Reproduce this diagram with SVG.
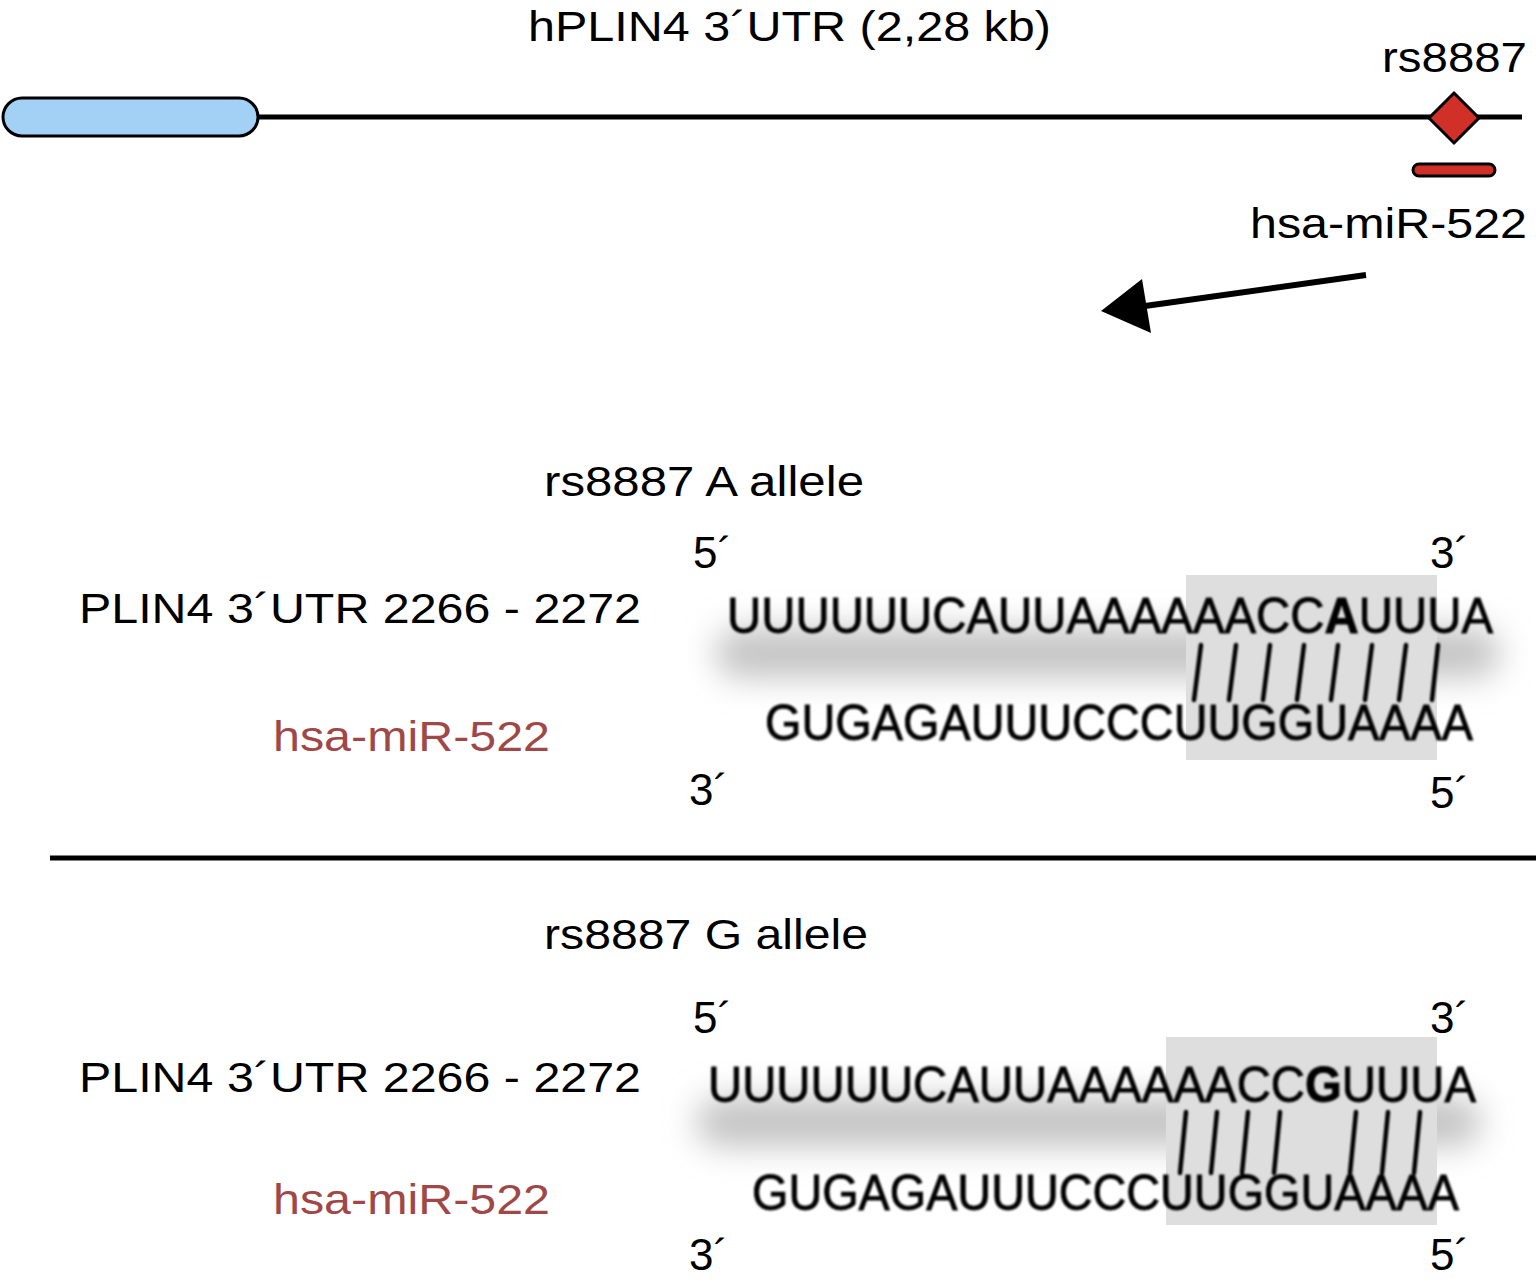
<svg xmlns="http://www.w3.org/2000/svg" width="1536" height="1285" viewBox="0 0 1536 1285">
<defs>
<style>
text{font-family:"Liberation Sans",Arial,sans-serif;fill:#000}
.lbl{font-size:42px}
.end{font-size:44px}
.mir{font-size:42px;fill:#a04848}
.seq{font-size:50px;stroke:#000;stroke-width:0.9}
.pair{stroke:#000;stroke-width:4.5;stroke-linecap:round}
.box{fill:#dedede}
</style>
<filter id="blur" x="-20%" y="-150%" width="140%" height="400%"><feGaussianBlur stdDeviation="16"/></filter>
<filter id="soft" x="-5%" y="-20%" width="110%" height="140%"><feGaussianBlur stdDeviation="1"/></filter>
</defs>
<rect width="1536" height="1285" fill="#fff"/>

<g id="title"><text class="lbl" x="528" y="41" textLength="523" lengthAdjust="spacingAndGlyphs">hPLIN4 3´UTR (2,28 kb)</text></g>

<g id="connectors">
<line x1="258" y1="117" x2="1522" y2="117" stroke="#000" stroke-width="5"/>
<line x1="1366" y1="275" x2="1145" y2="306" stroke="#000" stroke-width="6"/>
<polygon points="1101,311 1142,279 1151,333" fill="#000"/>
<line x1="50" y1="858" x2="1536" y2="858" stroke="#000" stroke-width="5"/>
</g>

<g id="utr-cds"><rect x="3" y="98" width="255" height="38" rx="19" fill="#a3d0f5" stroke="#000" stroke-width="3"/></g>
<g id="snp"><polygon points="1454,93 1479,118 1454,143 1429,118" fill="#d03028" stroke="#000" stroke-width="3"/>
<text class="lbl" x="1382" y="72" textLength="145" lengthAdjust="spacingAndGlyphs">rs8887</text></g>
<g id="mirsite"><rect x="1413" y="164" width="82" height="12" rx="6" fill="#d03028" stroke="#000" stroke-width="3"/>
<text class="lbl" x="1250" y="238" textLength="277" lengthAdjust="spacingAndGlyphs">hsa-miR-522</text></g>

<g id="allele-a">
<text class="lbl" x="544" y="496" textLength="320" lengthAdjust="spacingAndGlyphs">rs8887 A allele</text>
<text class="end" x="693" y="568">5´</text>
<text class="end" x="1430" y="568">3´</text>
<text class="lbl" x="79" y="623" textLength="562" lengthAdjust="spacingAndGlyphs">PLIN4 3´UTR 2266 - 2272</text>
<text class="mir" x="273" y="751" textLength="277" lengthAdjust="spacingAndGlyphs">hsa-miR-522</text>
<text class="end" x="689" y="805">3´</text>
<text class="end" x="1430" y="808">5´</text>
<rect x="715" y="628" width="785" height="50" rx="25" fill="#c4c4c4" filter="url(#blur)"/>
<rect class="box" x="1186" y="575" width="251" height="185"/>
<g filter="url(#soft)">
<text class="seq" x="727" y="633" textLength="766" lengthAdjust="spacingAndGlyphs">UUUUUUCAUUAAAAAACC<tspan font-weight="bold">A</tspan>UUUA</text>
<text class="seq" x="765" y="740" textLength="708" lengthAdjust="spacingAndGlyphs">GUGAGAUUUCCCUUGGUAAAA</text>
<line class="pair" x1="1201" y1="645" x2="1194" y2="700"/>
<line class="pair" x1="1236" y1="645" x2="1229" y2="700"/>
<line class="pair" x1="1270" y1="645" x2="1263" y2="700"/>
<line class="pair" x1="1304" y1="645" x2="1297" y2="700"/>
<line class="pair" x1="1338" y1="645" x2="1331" y2="700"/>
<line class="pair" x1="1372" y1="645" x2="1365" y2="700"/>
<line class="pair" x1="1406" y1="645" x2="1399" y2="700"/>
<line class="pair" x1="1438" y1="645" x2="1432" y2="700"/>
</g>
</g>

<g id="allele-g">
<text class="lbl" x="544" y="949" textLength="324" lengthAdjust="spacingAndGlyphs">rs8887 G allele</text>
<text class="end" x="693" y="1033">5´</text>
<text class="end" x="1430" y="1033">3´</text>
<text class="lbl" x="79" y="1092" textLength="562" lengthAdjust="spacingAndGlyphs">PLIN4 3´UTR 2266 - 2272</text>
<text class="mir" x="273" y="1214" textLength="277" lengthAdjust="spacingAndGlyphs">hsa-miR-522</text>
<text class="end" x="689" y="1270">3´</text>
<text class="end" x="1430" y="1270">5´</text>
<rect x="696" y="1097" width="785" height="50" rx="25" fill="#c4c4c4" filter="url(#blur)"/>
<rect class="box" x="1166" y="1037" width="271" height="188"/>
<g filter="url(#soft)">
<text class="seq" x="708" y="1102" textLength="768" lengthAdjust="spacingAndGlyphs">UUUUUUCAUUAAAAAACC<tspan font-weight="bold">G</tspan>UUUA</text>
<text class="seq" x="752" y="1210" textLength="707" lengthAdjust="spacingAndGlyphs">GUGAGAUUUCCCUUGGUAAAA</text>
<line class="pair" x1="1186" y1="1112" x2="1180" y2="1173"/>
<line class="pair" x1="1217" y1="1112" x2="1211" y2="1173"/>
<line class="pair" x1="1248" y1="1112" x2="1242" y2="1173"/>
<line class="pair" x1="1280" y1="1112" x2="1274" y2="1173"/>
<line class="pair" x1="1356" y1="1112" x2="1350" y2="1173"/>
<line class="pair" x1="1388" y1="1112" x2="1382" y2="1173"/>
<line class="pair" x1="1420" y1="1112" x2="1414" y2="1173"/>
</g>
</g>
</svg>
